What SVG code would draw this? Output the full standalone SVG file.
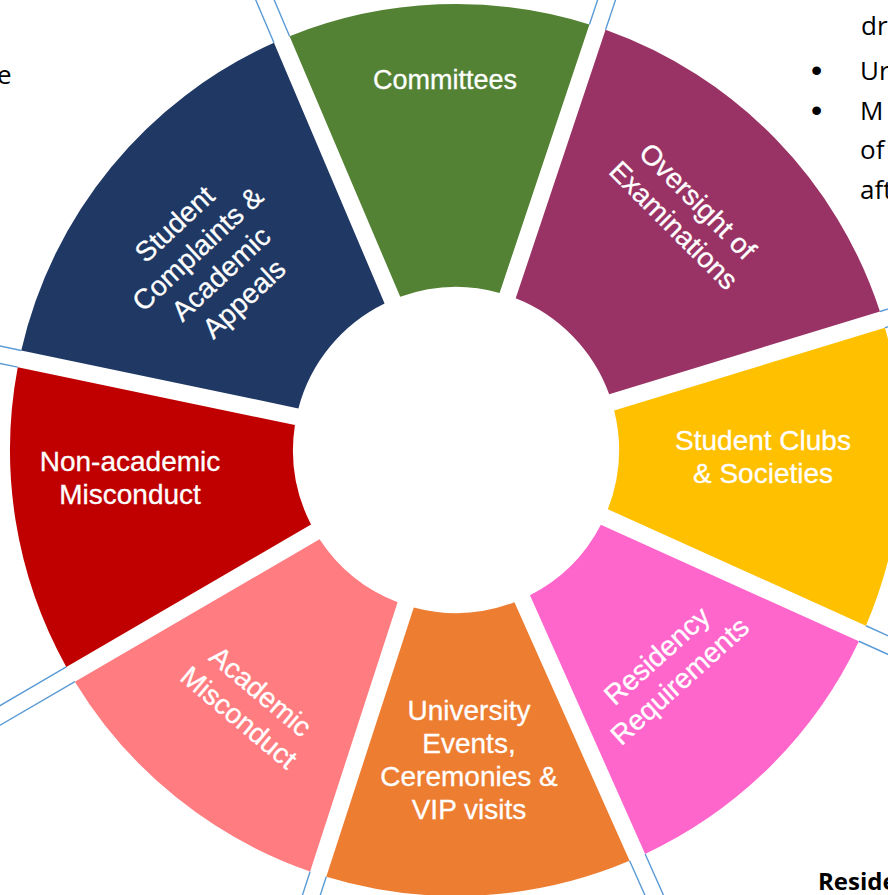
<svg xmlns="http://www.w3.org/2000/svg" width="888" height="895" viewBox="0 0 888 895">
<style>
.lbl{font-family:"Liberation Sans",Arial,sans-serif;font-size:28px;fill:#ffffff;text-anchor:middle;stroke:#ffffff;stroke-width:0.3}
.page{font-family:"Open Sans","Liberation Sans",sans-serif;font-size:25px;fill:#000000}
.bul{font-family:"Liberation Sans",Arial,sans-serif;font-size:32px;fill:#000000}
.edge{stroke:#5b9bd5;stroke-width:1.4;fill:none}
</style>
<rect x="0" y="0" width="888" height="895" fill="#ffffff"/>
<g id="connectors">
<path class="edge" d="M289.59 36.21 L172.4 -240 M273.95 42.85 L156.7 -233.3"/>
<path class="edge" d="M605.55 29.83 L637.28 -65 M589.43 24.43 L621.16 -70.4"/>
<path class="edge" d="M884.92 327.76 L980.5 298.5 M879.95 311.5 L975.6 282.3"/>
<path class="edge" d="M858.91 641.25 L950.05 682.4 M865.91 625.75 L957.05 666.9"/>
<path class="edge" d="M629.61 860.83 L670.3 952.2 M645.14 853.91 L685.8 945.3"/>
<path class="edge" d="M310.12 871.47 L279.2 966.6 M326.28 876.73 L295.4 971.8"/>
<path class="edge" d="M66.32 666.96 L-106.5 767.6 M74.88 681.66 L-98 782.3"/>
<path class="edge" d="M21.24 350.49 L-76.6 330 M17.76 367.13 L-80.1 346.7"/>
</g>
<g id="complaints">
<path fill="#1f3864" d="M21.24 350.49 A446 446 0 0 1 273.95 42.85 L384.58 303.48 A163 163 0 0 0 298.4 408.39 Z"/>
<text class="lbl" transform="translate(209,261) rotate(-43)"><tspan x="0" y="-41">Student</tspan><tspan x="0" y="-7">Complaints &amp;</tspan><tspan x="0" y="27">Academic</tspan><tspan x="0" y="61">Appeals</tspan></text>
</g>
<g id="committees">
<path fill="#548235" d="M289.59 36.21 A446 446 0 0 1 589.43 24.43 L499.59 292.93 A163 163 0 0 0 400.22 296.84 Z"/>
<text class="lbl" x="445" y="89" style="font-size:27px">Committees</text>
</g>
<g id="oversight">
<path fill="#993366" d="M605.55 29.83 A446 446 0 0 1 879.95 311.5 L609.19 394.28 A163 163 0 0 0 515.71 298.33 Z"/>
<text class="lbl" transform="translate(686,213) rotate(45)"><tspan x="0" y="-7">Oversight of</tspan><tspan x="0" y="27">Examinations</tspan></text>
</g>
<g id="clubs">
<path fill="#ffc000" d="M884.92 327.76 A446 446 0 0 1 865.91 625.75 L607.86 509.24 A163 163 0 0 0 614.16 410.54 Z"/>
<text class="lbl"><tspan x="763" y="450">Student Clubs</tspan><tspan x="763" y="483">&amp; Societies</tspan></text>
</g>
<g id="residency">
<path fill="#ff66cc" d="M858.91 641.25 A446 446 0 0 1 645.14 853.91 L529.97 595.25 A163 163 0 0 0 600.86 524.74 Z"/>
<text class="lbl" transform="translate(668,668) rotate(-42)"><tspan x="0" y="-7">Residency</tspan><tspan x="0" y="27">Requirements</tspan></text>
</g>
<g id="events">
<path fill="#ed7d31" d="M629.61 860.83 A446 446 0 0 1 326.28 876.73 L413.78 607.44 A163 163 0 0 0 514.44 602.17 Z"/>
<text class="lbl"><tspan x="469" y="720">University</tspan><tspan x="469" y="753">Events,</tspan><tspan x="469" y="786">Ceremonies &amp;</tspan><tspan x="469" y="819">VIP visits</tspan></text>
</g>
<g id="academic-misconduct">
<path fill="#ff7c80" d="M310.12 871.47 A446 446 0 0 1 74.88 681.66 L319.59 539.23 A163 163 0 0 0 397.61 602.18 Z"/>
<text class="lbl" transform="translate(250,704) rotate(40)"><tspan x="0" y="-7">Academic</tspan><tspan x="0" y="27">Misconduct</tspan></text>
</g>
<g id="non-academic">
<path fill="#c00000" d="M66.32 666.96 A446 446 0 0 1 17.76 367.13 L294.92 425.03 A163 163 0 0 0 311.04 524.53 Z"/>
<text class="lbl"><tspan x="130" y="471">Non-academic</tspan><tspan x="130" y="504">Misconduct</tspan></text>
</g>
<g id="page-text">
<text class="page" x="-3" y="84" style="font-size:26px">e</text>
<text class="page" x="861" y="35" style="font-size:26px">dr</text>
<text class="bul" x="811" y="81">•</text>
<text class="page" x="860" y="80" style="font-size:26px">Ur</text>
<text class="bul" x="811" y="121">•</text>
<text class="page" x="860" y="120" style="font-size:26px">M</text>
<text class="page" x="860" y="159" style="font-size:26px">of</text>
<text class="page" x="860" y="199" style="font-size:26px">aft</text>
<text class="page" x="818" y="890" style="font-weight:bold;font-size:24px">Reside</text>
</g>
</svg>
